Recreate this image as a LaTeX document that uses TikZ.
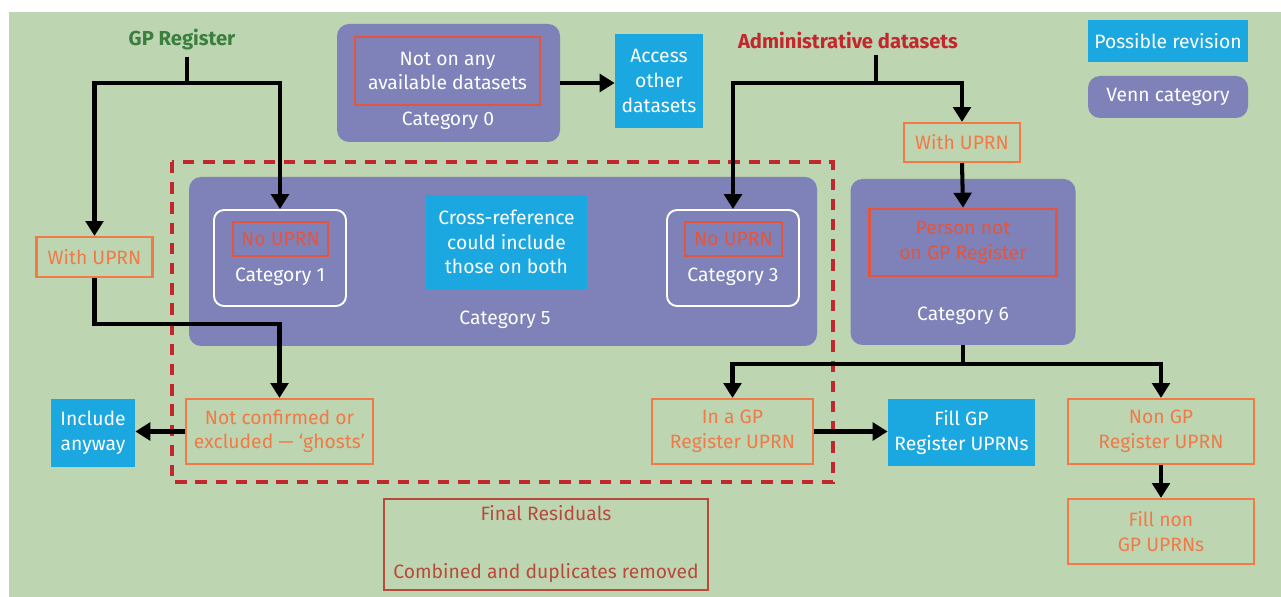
\documentclass[tikz,border=0pt]{standalone}
\usepackage{fontspec}
\setmainfont{Fira Sans}
\usepackage{tikz}
\usetikzlibrary{%
	arrows.meta,%
	calc
}
\definecolor{bggreen}{RGB}{189,213,177}
\definecolor{vennblue}{RGB}{126,130,184}
\definecolor{revcyan}{RGB}{27,167,223}
\definecolor{orbox}{RGB}{240,122,72}
\definecolor{redline}{RGB}{226,86,64}
\definecolor{admred}{RGB}{193,39,45}
\definecolor{gpgreen}{RGB}{59,127,63}
\definecolor{residred}{RGB}{184,74,60}
\tikzset{
	sz/.style 2 args={minimum width=#1*0.02cm,minimum height=#2*0.02cm},
	venn/.style={fill=vennblue,rounded corners=0.24cm,inner sep=0pt,text=white},
	revision/.style={fill=revcyan,inner sep=0pt,text=white,align=center},
	orangebox/.style={draw=orbox,line width=1.2pt,inner sep=0pt,text=orbox,align=center},
	redbox/.style={draw=redline,line width=1.5pt,inner sep=0pt,align=center},
	catbox/.style={draw=white,line width=1.1pt,rounded corners=0.2cm,inner sep=0pt},
	catlabel/.style={text=white},
	source/.style={font=\fontsize{11.5}{14}\selectfont\bfseries},
	link/.style={line width=2.3pt},
	flow/.style={link,-{Triangle[length=8.5pt,width=10pt]}},
	dashline/.style={draw=admred,line width=2.2pt,dash pattern=on 6.5pt off 5pt}
}

\begin{document}
\begin{tikzpicture}[x=0.02cm,y=-0.02cm,font=\fontsize{11}{14}\selectfont]
	\useasboundingbox (0,0) rectangle (1281,597);
	\fill[bggreen] (9,12) rectangle (1281,597);
	% sources and key
	\node[source,text=gpgreen] (gp) at (182,40) {GP Register};
	\node[source,text=admred] (admin) at (848,40) {Administrative datasets};
	\node[revision,sz={160}{42}] (keyrev) at (1168,41) {Possible revision};
	\node[venn,sz={160}{42}] (keyvenn) at (1168,97) {Venn category};
	% category 0
	\node[venn,sz={223}{118}] (cat0) at (448.5,83) {};
	\node[redbox,text=white,sz={185}{68}] (cat0in) at (447.5,71) {Not on any\\available datasets};
	\node[catlabel] (cat0lbl) at (448,121) {Category 0};
	\node[revision,sz={88}{94}] (access) at (659,81) {Access\\other\\datasets};
	% category 5
	\draw[dashline] (172,162) rectangle (833,482);
	\node[venn,sz={628}{169}] (cat5) at (503,261.5) {};
	\node[revision,sz={161}{94}] (xref) at (506.5,242) {Cross-reference\\could include\\those on both};
	\node[catlabel] (cat5lbl) at (505,320) {Category 5};
	\node[catbox,sz={132}{96}] (cat1) at (280,258) {};
	\node[redbox,text=redline,sz={95}{34}] (cat1in) at (280.5,239) {No UPRN};
	\node[catlabel] (cat1lbl) at (280,277) {Category 1};
	\node[catbox,sz={132}{96}] (cat3) at (733,258) {};
	\node[redbox,text=redline,sz={97}{34}] (cat3in) at (733.5,239) {No UPRN};
	\node[catlabel] (cat3lbl) at (733,277) {Category 3};
	% category 6
	\node[orangebox,sz={116}{39}] (withR) at (962,142.5) {With UPRN};
	\node[venn,sz={225}{166}] (cat6) at (963,262) {};
	\node[redbox,text=redline,sz={187}{67}] (pers) at (963,242.5) {Person not\\on GP Register};
	\node[catlabel] (cat6lbl) at (963,316) {Category 6};
	% lower row
	\node[orangebox,sz={116}{40}] (withL) at (94.5,257) {With UPRN};
	\node[orangebox,sz={187}{65}] (ghost) at (279.5,431.5) {Not confirmed or\\excluded — ‘ghosts’};
	\node[revision,sz={84}{68}] (incl) at (93,433) {Include\\anyway};
	\node[orangebox,sz={161}{65}] (ingp) at (732.5,431.5) {In a GP\\Register UPRN};
	\node[revision,sz={147}{67}] (fillgp) at (961.5,432.5) {Fill GP\\Register UPRNs};
	\node[orangebox,sz={186}{65}] (nongp) at (1161,431.5) {Non GP\\Register UPRN};
	\node[orangebox,sz={186}{65}] (fillnon) at (1161,531.5) {Fill non\\GP UPRNs};
	\node[draw=residred,line width=1.2pt,text=residred,inner sep=0pt,align=center,sz={324}{91}] (resid) at (546,544.5) {Final Residuals\\[19pt]Combined and duplicates removed};
	% connectors
	\coordinate (gpsplit) at (187,83);
	\coordinate (adsplit) at (876,83);
	\coordinate (c6split) at (963,364);
	\draw[link] (gp.south -| gpsplit) -- (gpsplit);
	\draw[flow] (gpsplit) -| (withL.north);
	\draw[flow] (gpsplit) -| (cat1.north);
	\draw[flow] (withL.south) -- ++(0,46) -| (ghost.north);
	\draw[flow] (ghost.west) -- (ghost.west -| incl.east);
	\draw[flow] (cat0.east) -- (cat0.east -| access.west);
	\draw[link] (admin.south -| adsplit) -- (adsplit);
	\draw[flow] (adsplit) -| (cat3.north);
	\draw[flow] (adsplit) -| (withR.north);
	\draw[flow] (withR.south) -- (pers.north);
	\draw[link] (cat6.south) -- (c6split);
	\draw[flow] (c6split) -| (ingp.north);
	\draw[flow] (c6split) -| (nongp.north);
	\draw[flow] (ingp.east) -- (ingp.east -| fillgp.west);
	\draw[flow] (nongp.south) -- (fillnon.north);
\end{tikzpicture}
\end{document}
